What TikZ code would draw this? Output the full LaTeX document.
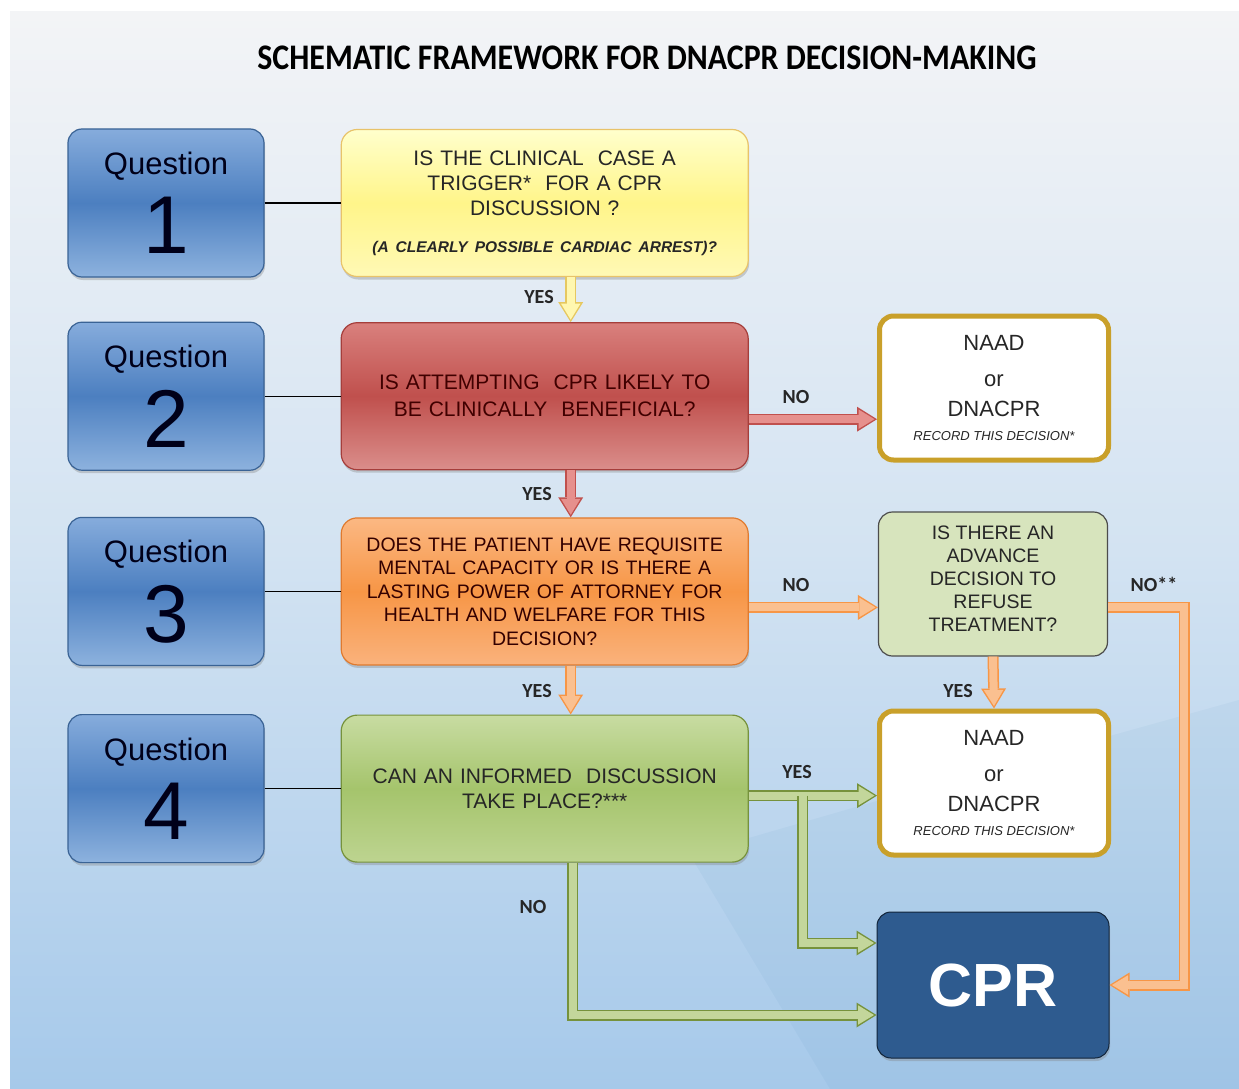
\documentclass[tikz,border=0pt]{standalone}
\usepackage{fontspec}
\setmainfont{Liberation Sans}
\newfontfamily\calfont{Carlito}
\newfontfamily\titlefont[FakeStretch=0.885]{Carlito}
\usepackage{xcolor}
\usetikzlibrary{arrows.meta, positioning, calc, shadows}

\definecolor{bgtop}{HTML}{F3F4F6}
\definecolor{bgmid}{HTML}{D3E3F2}
\definecolor{bgbot}{HTML}{A6C9EA}
\definecolor{qtop}{HTML}{86ACDC}
\definecolor{qmid}{HTML}{4C7FC0}
\definecolor{qbot}{HTML}{8DB2DE}
\definecolor{qline}{HTML}{3A6395}
\definecolor{yeltop}{HTML}{FFFFCC}
\definecolor{yelmid}{HTML}{FFF58A}
\definecolor{yelbot}{HTML}{FFF9B5}
\definecolor{yelline}{HTML}{E8C36A}
\definecolor{redtop}{HTML}{D9807D}
\definecolor{redmid}{HTML}{C0504D}
\definecolor{redbot}{HTML}{DA8E8B}
\definecolor{redline}{HTML}{A53E3B}
\definecolor{orgtop}{HTML}{FBB883}
\definecolor{orgmid}{HTML}{F79646}
\definecolor{orgbot}{HTML}{FAB27C}
\definecolor{orgline}{HTML}{E07A2E}
\definecolor{grntop}{HTML}{C8DCA2}
\definecolor{grnmid}{HTML}{A5C46C}
\definecolor{grnbot}{HTML}{BDD490}
\definecolor{grnline}{HTML}{76923C}
\definecolor{sage}{HTML}{D7E4BD}
\definecolor{gold}{HTML}{C9A02A}
\definecolor{cprblue}{HTML}{2E5B8F}
\definecolor{yelfill}{HTML}{FFF7B0}
\definecolor{yelarr}{HTML}{E6C860}
\definecolor{redfill}{HTML}{E6908D}
\definecolor{orgfill}{HTML}{FAC090}
\definecolor{grnfill}{HTML}{C3D69B}

\begin{document}
\begin{tikzpicture}[
    x=1pt, y=-1pt,
    node distance=44pt and 76pt,
    shade/.style={drop shadow={shadow xshift=1pt, shadow yshift=-3pt, opacity=0.35}},
    qbox/.style={rectangle, draw=qline, line width=1.2pt, rounded corners=14pt, minimum width=196pt, minimum height=148pt, align=center,
        top color=qtop, bottom color=qbot, middle color=qmid, shade, text=black!90!blue, font=\fontsize{31}{36}\selectfont},
    mainbox/.style={rectangle, line width=1.2pt, rounded corners=16pt, minimum width=407pt, minimum height=147pt, text width=390pt, align=center, shade},
    sidebox/.style={rectangle, rounded corners=14pt, minimum width=229pt, minimum height=144pt, align=center},
    naad/.style={sidebox, draw=gold, line width=5pt, fill=white, font=\fontsize{22}{26}\selectfont, text=black!85},
    lbl/.style={font=\calfont\bfseries\fontsize{20}{24}\selectfont, text=black!85},
    fatarrow/.style 2 args={draw=#2, line width=11pt, -{Triangle[length=20pt, width=25pt, line width'=0pt]},
        postaction={draw=#1, line width=8pt, shorten >=2.5pt, -{Triangle[length=16pt, width=19.5pt, line width'=0pt]}}}
]
    % Background
    \useasboundingbox (0,0) rectangle (1239,1089);
    \fill[white] (0,0) rectangle (1239,1089);
    \shade[top color=bgtop, bottom color=bgbot, middle color=bgmid] (10,12) rectangle (1239,1089);
    \fill[blue!40!cyan!60!black, opacity=0.04] (690,855) -- (880,800) -- (1239,700) -- (1239,1089) -- (830,1089) -- cycle;

    % Title
    \node[font=\titlefont\bfseries\fontsize{36}{42}\selectfont] (title) at (647,58) {SCHEMATIC FRAMEWORK FOR DNACPR DECISION-MAKING};

    % Question boxes
    \node[qbox] (q1) at (166,203) {Question\\[16pt]{\fontsize{82}{82}\selectfont 1}};
    \node[qbox, below=of q1] (q2) {Question\\[16pt]{\fontsize{82}{82}\selectfont 2}};
    \node[qbox, below=46pt of q2] (q3) {Question\\[16pt]{\fontsize{82}{82}\selectfont 3}};
    \node[qbox, below=48pt of q3] (q4) {Question\\[16pt]{\fontsize{82}{82}\selectfont 4}};

    % Question texts
    \node[mainbox, right=of q1, draw=yelline, top color=yeltop, bottom color=yelbot, middle color=yelmid, text=black!85,
        font=\fontsize{21}{25}\selectfont] (c1)
        {IS THE CLINICAL\ \ CASE A\\ TRIGGER*\ \ FOR A CPR\\ DISCUSSION\ ?\\[12pt]
         {\fontsize{15.5}{18}\selectfont\bfseries\itshape (A CLEARLY POSSIBLE CARDIAC ARREST)?}};
    \node[mainbox, right=of q2, draw=redline, top color=redtop, bottom color=redbot, middle color=redmid, text=black!75!red,
        font=\fontsize{21}{27}\selectfont] (c2)
        {IS ATTEMPTING\ \ CPR LIKELY TO\\ BE CLINICALLY\ \ BENEFICIAL?};
    \node[mainbox, right=of q3, draw=orgline, top color=orgtop, bottom color=orgbot, middle color=orgmid, text=black!80!red,
        font=\fontsize{19.5}{23.5}\selectfont] (c3)
        {DOES THE PATIENT HAVE REQUISITE\\ MENTAL CAPACITY OR IS THERE A\\ LASTING POWER OF ATTORNEY\ FOR\\ HEALTH AND WELFARE FOR THIS\\ DECISION?};
    \node[mainbox, right=of q4, draw=grnline, top color=grntop, bottom color=grnbot, middle color=grnmid, text=black!85,
        font=\fontsize{21}{25}\selectfont] (c4)
        {CAN AN INFORMED\ \ DISCUSSION\\ TAKE PLACE?***};

    % Outcome boxes
    \node[naad] (naad1) at (994,388) {NAAD\\[10pt] or\\[4pt] DNACPR\\[-2pt] {\fontsize{13}{16}\selectfont\itshape RECORD THIS DECISION*}};
    \node[sidebox, draw=black!70, line width=1.2pt, fill=sage, text=black!85, font=\fontsize{19.5}{23}\selectfont] (adrt) at (993,584)
        {IS THERE AN\\ ADVANCE\\ DECISION TO\\ REFUSE\\ TREATMENT?\\[-13pt]\mbox{}};
    \node[naad] (naad2) at (994,783) {NAAD\\[10pt] or\\[4pt] DNACPR\\[-2pt] {\fontsize{13}{16}\selectfont\itshape RECORD THIS DECISION*}};
    \node[sidebox, draw=black!60!cprblue, line width=1pt, fill=cprblue, minimum width=232pt, minimum height=146pt, text=white,
        font=\fontsize{61}{70}\selectfont\bfseries, shade] (cpr) at (993,985) {CPR};

    % Links question -> text
    \draw[line width=1.2pt] (q1) -- (c1);
    \draw[line width=1.2pt] (q2) -- (c2);
    \draw[line width=1.2pt] (q3) -- (c3);
    \draw[line width=1.2pt] (q4) -- (c4);

    % Helper points
    \coordinate (yes1) at ([xshift=26pt]c1.south);
    \coordinate (yes2) at ([xshift=26pt]c2.south);
    \coordinate (yes3) at ([xshift=26pt]c3.south);
    \coordinate (no2) at ([yshift=-23pt]c2.east);
    \coordinate (no3) at ([yshift=-16pt]c3.east);
    \coordinate (nostar) at (adrt.east |- no3);
    \coordinate (yes4) at ([yshift=-7pt]c4.east);
    \coordinate (split) at ([xshift=54pt]yes4);
    \coordinate (no4) at ([xshift=28pt]c4.south);

    % Arrows
    \draw[fatarrow={yelfill}{yelarr}] (yes1) -- (yes1 |- c2.north);
    \draw[fatarrow={redfill}{redmid}] (yes2) -- (yes2 |- c3.north);
    \draw[fatarrow={orgfill}{orgmid}] (yes3) -- (yes3 |- c4.north);
    \draw[fatarrow={redfill}{redmid}] (no2) -- (no2 -| naad1.west);
    \draw[fatarrow={orgfill}{orgmid}] (no3) -- (no3 -| adrt.west);
    \draw[fatarrow={orgfill}{orgmid}] (adrt.south) -- (naad2.north);
    \draw[fatarrow={orgfill}{orgmid}] (nostar) -- ++(76,0) |- (cpr.east);
    \draw[fatarrow={grnfill}{grnline}] (yes4) -- (yes4 -| naad2.west);
    \draw[fatarrow={grnfill}{grnline}] (split) |- ([yshift=42pt]cpr.west);
    \draw[fatarrow={grnfill}{grnline}] (no4) |- ([yshift=-30pt]cpr.west);

    % Labels
    \node[lbl] (l1) at (539,297) {YES};
    \node[lbl] (l2) at (537,494) {YES};
    \node[lbl] (l3) at (537,691) {YES};
    \node[lbl] (l4) at (796,397) {NO};
    \node[lbl] (l5) at (796,585) {NO};
    \node[lbl] (l6) at (1154,584) {NO**};
    \node[lbl] (l7) at (958,691) {YES};
    \node[lbl] (l8) at (797,772) {YES};
    \node[lbl] (l9) at (533,907) {NO};
\end{tikzpicture}
\end{document}
